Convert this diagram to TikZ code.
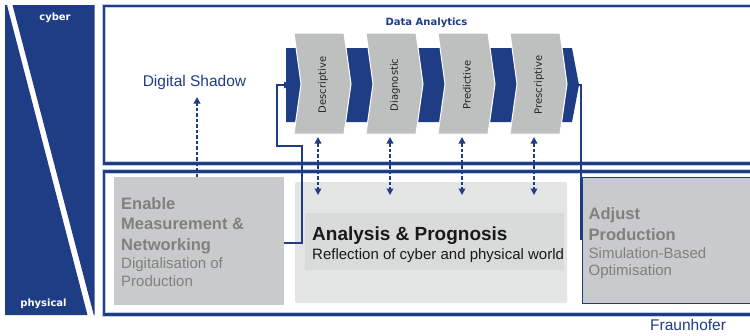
\documentclass[tikz,border=0pt]{standalone}
\usepackage{fontspec}
\setmainfont{Liberation Sans}
\newfontfamily\dejavu{DejaVu Sans}
\usetikzlibrary{arrows.meta}

\definecolor{navy}{RGB}{31,61,133}
\definecolor{haloblue}{RGB}{190,205,232}
\definecolor{chevgrey}{RGB}{190,192,192}
\definecolor{boxgrey}{RGB}{201,202,203}
\definecolor{softgrey}{RGB}{227,229,229}
\definecolor{bandgrey}{RGB}{217,219,219}
\definecolor{labelgrey}{RGB}{128,128,128}
\definecolor{inkgrey}{RGB}{35,35,35}
\definecolor{ink}{RGB}{25,25,25}

\begin{document}
\begin{tikzpicture}[x=1pt,y=-1pt,
  >={Triangle[length=6.5pt,width=6.5pt]},
  halo/.style={draw=haloblue, line width=4.2pt},
  rim/.style={draw=navy, line width=2.8pt},
  panel/.style={anchor=north west, inner sep=0pt, outer sep=0pt},
  chev/.style={fill=chevgrey, draw=white, line width=1pt},
  chevtext/.style={rotate=90, font=\dejavu\fontsize{10}{12}\selectfont, text=inkgrey, inner sep=0pt},
  tag/.style={font=\dejavu\bfseries\fontsize{10}{12}\selectfont, inner sep=0pt},
  txt/.style={anchor=base west, inner sep=0pt},
  bigbold/.style={txt, font=\bfseries\fontsize{16.5}{20}\selectfont, text=labelgrey},
  smallreg/.style={txt, font=\fontsize{15}{18}\selectfont, text=labelgrey},
  navyline/.style={draw=navy, line width=1.3pt},
  dashlink/.style={draw=navy, line width=1.8pt, dash pattern=on 3.5pt off 2pt}
]
\useasboundingbox (0,0) rectangle (750,335);
\clip (0,0) rectangle (750,335);

% cyber / physical banner with its white diagonal
\fill[navy] (5,5) -- (7,5) -- (87.5,315) -- (5,315) -- cycle;
\fill[navy] (12.5,5) -- (94.5,5) -- (94.5,315) -- (93.8,315) -- cycle;
\node[tag, text=white] (cyber) at (55,18) {cyber};
\node[tag, text=white] (physical) at (43.5,304) {physical};

% open frames of the two layers
\foreach \st in {halo,rim} {
  \draw[\st] (760,6) -- (104,6) -- (104,163.5) -- (760,163.5);
  \draw[\st] (760,171.5) -- (104,171.5) -- (104,314.5) -- (760,314.5);
}

% physical layer panels
\node[panel, fill=boxgrey, minimum width=169.5pt, minimum height=128pt] (enable) at (114,177) {};
\node[panel, fill=softgrey, rounded corners=2pt, minimum width=272pt, minimum height=121pt] (analysis) at (295,182) {};
\node[panel, fill=bandgrey, minimum width=259pt, minimum height=57pt] (analysisband) at (305,213) {};
\node[panel, fill=boxgrey, draw=navy, line width=1pt, minimum width=180pt, minimum height=126.5pt] (adjust) at (582.5,177) {};

\node[bigbold] (en1) at (121,209) {Enable};
\node[bigbold] (en2) at (121,229.5) {Measurement \&};
\node[bigbold] (en3) at (121,250) {Networking};
\node[smallreg] (en4) at (121,268.5) {Digitalisation of};
\node[smallreg] (en5) at (121,286) {Production};

\node[txt, font=\bfseries\fontsize{19}{22}\selectfont, text=ink] (an1) at (312,240) {Analysis \& Prognosis};
\node[txt, font=\fontsize{15}{18}\selectfont, text=ink] (an2) at (312,259) {Reflection of cyber and physical world};

\node[bigbold] (ad1) at (588.5,219.5) {Adjust};
\node[bigbold] (ad2) at (588.5,240) {Production};
\node[smallreg] (ad3) at (588.5,258) {Simulation-Based};
\node[smallreg] (ad4) at (588.5,275.5) {Optimisation};

% data analytics chevron band
\node[tag, text=navy] (analytics) at (426.5,23) {Data Analytics};
\fill[navy] (286,48) -- (572,48) -- (579,85) -- (572,122) -- (286,122) -- cycle;
\coordinate (bandtail) at (290.5,85);
\coordinate (bandtip) at (579,85);

% feedback loop from the physical panels into the band
\draw[navyline, ->] ([yshift=-2pt]enable.east) -- (302,243) -- (302,146) -- (277,146) -- (277,85) -- (bandtail);
\draw[navyline] (bandtip) -| ([xshift=-1.5pt]adjust.west);

\foreach \name/\lbl [count=\i from 0] in {desc/Descriptive, diag/Diagnostic, pred/Predictive, presc/Prescriptive} {
  \pgfmathsetmacro\xo{294+72*\i}
  \path[chev] (\xo,33) -- (\xo+50,33) -- (\xo+57,84) -- (\xo+50,134) -- (\xo,134) -- (\xo+7,84) -- cycle;
  \node[chevtext] (\name) at (\xo+29,85) {\lbl};
  \coordinate (\name-up) at (\xo+24,137);
  \coordinate (\name-down) at (\xo+24,195);
  \draw[dashlink, <->] (\name-up) -- (\name-down);
}

% digital shadow
\node[anchor=base, inner sep=0pt, font=\fontsize{15.5}{18}\selectfont, text=navy] (shadow) at (194.5,86.7) {Digital Shadow};
\coordinate (shadowtip) at (197,97);
\draw[dashlink, ->] (enable.north -| shadowtip) -- (shadowtip);

\node[txt, font=\fontsize{15.5}{18}\selectfont, text=navy] (fraunhofer) at (650,330) {Fraunhofer};
\end{tikzpicture}
\end{document}
